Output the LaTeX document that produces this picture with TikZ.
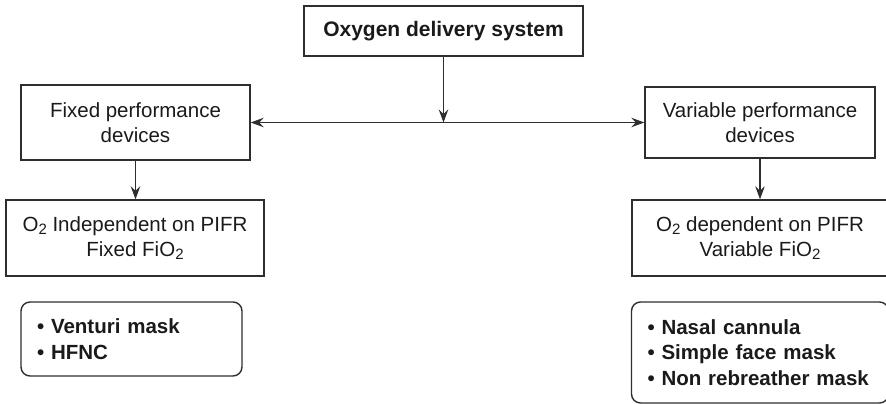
\documentclass[tikz,border=0pt]{standalone}
\usepackage{fontspec}
\setmainfont{Liberation Sans}
\usetikzlibrary{arrows.meta}
\definecolor{ink}{HTML}{1A1A1A}
\definecolor{edge}{HTML}{2E2E2E}
\newcommand{\subtwo}{\raisebox{-0.32ex}{\fontsize{15}{15}\selectfont 2}}
\begin{document}
\begin{tikzpicture}[x=1pt,y=-1pt,
  box/.style={draw=edge, line width=1.4pt, inner sep=0pt, align=center, text=ink,
    font=\fontsize{20.5}{25}\selectfont},
  listbox/.style={draw=edge, line width=1.4pt, rounded corners=9pt, inner ysep=0pt, inner xsep=16pt,
    align=left, text=ink, font=\fontsize{20.5}{25.5}\selectfont\bfseries},
  tip/.style={Stealth[length=13pt, width=9.5pt, inset=4.5pt]},
  arr/.style={draw=edge, line width=1.1pt, -{Stealth[length=13pt, width=9.5pt, inset=4.5pt]}},
  arrb/.style={draw=edge, line width=1.1pt, {Stealth[length=13pt, width=9.5pt, inset=4.5pt]}-{Stealth[length=13pt, width=9.5pt, inset=4.5pt]}}
]
\useasboundingbox (0,0) rectangle (886,404);

\node[box, minimum width=279pt, minimum height=50pt, font=\fontsize{21}{25}\selectfont\bfseries] (top) at (443.5,31) {Oxygen delivery system};
\node[box, minimum width=229pt, minimum height=75pt] (fixed) at (135.5,122.5) {Fixed performance\\devices};
\node[box, minimum width=230pt, minimum height=71pt] (var) at (760,122.5) {Variable performance\\devices};
\node[box, minimum width=258pt, minimum height=76pt] (ind) at (135,238) {O\subtwo{} Independent on PIFR\\Fixed FiO\subtwo};
\node[box, minimum width=256pt, minimum height=76pt] (dep) at (760,238) {O\subtwo{} dependent on PIFR\\Variable FiO\subtwo};

\node[listbox, text width=189pt, minimum height=74pt] (fl) at (131.5,339) {• Venturi mask\\• HFNC};
\node[listbox, text width=225pt, minimum height=101pt] (fr) at (760,352.5) {• Nasal cannula\\• Simple face mask\\• Non rebreather mask};

\coordinate (j) at (top.south |- fixed.east);
\draw[arr] (top.south) -- (j);
\draw[arrb] (fixed.east) -- (var.west);
\draw[arr] (fixed.south) -- (fixed.south |- ind.north);
\draw[arr] (var.south) -- (var.south |- dep.north);
\end{tikzpicture}
\end{document}
